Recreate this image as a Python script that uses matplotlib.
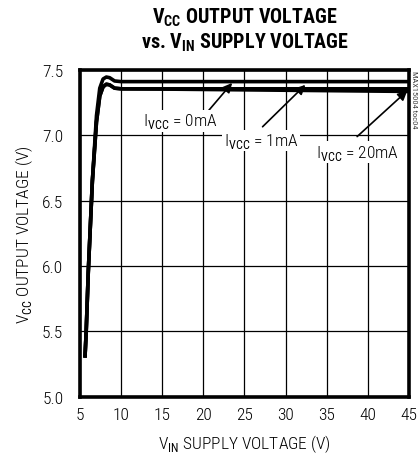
import matplotlib
matplotlib.use("Agg")
import matplotlib.pyplot as plt

plt.rcParams['font.family'] = ['Roboto Condensed', 'DejaVu Sans']
plt.rcParams['mathtext.fontset'] = 'custom'
plt.rcParams['mathtext.rm'] = 'Roboto Condensed'
plt.rcParams['mathtext.bf'] = 'Roboto Condensed:bold'

# supply voltage (V)
vin = [5.6, 5.75, 6.0, 6.5, 7.0, 7.4, 7.8, 8.2, 8.6, 9.2, 10, 15, 20, 25, 30, 35, 40, 45]
# Vcc output (V) for each load
vcc_0ma = [5.30, 5.50, 5.95, 6.65, 7.15, 7.36, 7.43, 7.445, 7.44, 7.415, 7.41, 7.41, 7.41, 7.41, 7.41, 7.41, 7.41, 7.41]
vcc_1ma = [5.30, 5.50, 5.95, 6.65, 7.10, 7.30, 7.37, 7.39, 7.385, 7.36, 7.355, 7.355, 7.355, 7.355, 7.355, 7.355, 7.355, 7.355]
vcc_20ma = [5.30, 5.50, 5.95, 6.65, 7.10, 7.30, 7.37, 7.39, 7.385, 7.36, 7.355, 7.353, 7.35, 7.347, 7.344, 7.341, 7.338, 7.335]

fig = plt.figure(figsize=(4.19, 4.60), dpi=100)
ax = fig.add_axes([0.191, 0.135, 0.785, 0.711])

for y in (vcc_0ma, vcc_1ma, vcc_20ma):
    ax.plot(vin, y, color='black', lw=2.6, solid_capstyle='butt')

ax.set_xlim(5, 45)
ax.set_ylim(5.0, 7.5)
ax.set_xticks(range(5, 46, 5))
ax.set_yticks([5.0, 5.5, 6.0, 6.5, 7.0, 7.5])
ax.set_yticklabels(['5.0', '5.5', '6.0', '6.5', '7.0', '7.5'])
ax.grid(True, color='black', lw=0.9)
ax.tick_params(length=0, labelsize=12.5, pad=7)
ax.tick_params(axis='y', pad=12)
for lab in ax.get_xticklabels() + ax.get_yticklabels():
    lab.set_fontweight('light')
for s in ax.spines.values():
    s.set_linewidth(2.6)

ax.set_xlabel('V$_{\\rm IN}$ SUPPLY VOLTAGE (V)', fontsize=12.5, labelpad=8, fontweight='light')
ax.set_ylabel('V$_{\\rm CC}$ OUTPUT VOLTAGE (V)', fontsize=12.5, labelpad=5, fontweight='light')

fig.text(0.585, 0.962, 'V$_{\\mathbf{CC}}$ OUTPUT VOLTAGE', ha='center', va='center',
         fontsize=14.5, fontweight='bold')
fig.text(0.585, 0.907, 'vs. V$_{\\mathbf{IN}}$ SUPPLY VOLTAGE', ha='center', va='center',
         fontsize=14.5, fontweight='bold')

box = dict(facecolor='white', edgecolor='none', pad=1)
arrow = dict(arrowstyle='-|>', color='black', lw=1.2, mutation_scale=14, shrinkA=0, shrinkB=0)
labels = [('I$_{\\rm VCC}$ = 0mA', (23.5, 7.40), (19.3, 7.09), (17.2, 7.11)),
          ('I$_{\\rm VCC}$ = 1mA', (32.4, 7.385), (27.2, 7.065), (27.0, 6.96)),
          ('I$_{\\rm VCC}$ = 20mA', (44.8, 7.34), (38.7, 6.99), (38.8, 6.87))]
for txt, head, tail, pos in labels:
    ax.annotate('', xy=head, xytext=tail, arrowprops=arrow)
    ax.text(pos[0], pos[1], txt, ha='center', va='center', fontsize=12.5,
            fontweight='light', bbox=box, zorder=5)

fig.text(0.988, 0.845, 'MAX15004 toc04', rotation=270, ha='center', va='top',
         fontsize=6, color='#444444')

fig.savefig('out.png', dpi=100)
